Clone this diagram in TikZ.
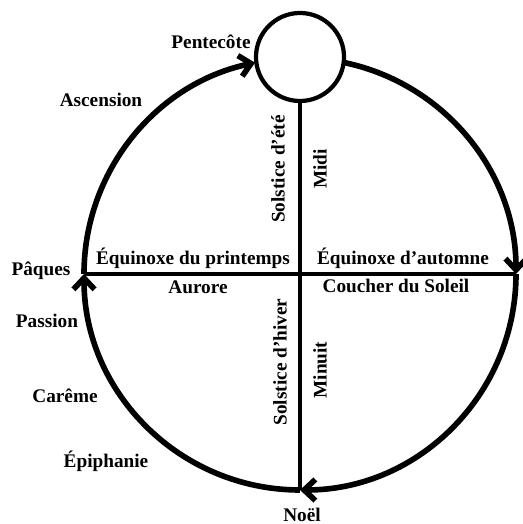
\documentclass[tikz,border=0pt]{standalone}
\usepackage{fontspec}
\setmainfont{Liberation Serif}
\usetikzlibrary{arrows.meta}

\begin{document}
\begin{tikzpicture}[
    x=0.025cm, y=0.025cm,
    font=\fontsize{13.7}{16}\selectfont\bfseries,
    >={Straight Barb[length=8pt,width=15pt]},
    cycle/.style={->, line width=4pt},
    axis/.style={line width=2.4pt},
    sun/.style={circle, draw, line width=3pt, minimum size=2.2cm, inner sep=0pt},
    lbl/.style={inner sep=0pt},
    vlbl/.style={inner sep=0pt, rotate=90},
]
\useasboundingbox (0,0) rectangle (522,524);

% ---- Sun and axes --------------------------------------------------
\coordinate (C) at (300,250);
\node[sun] (sun) at (300,467) {};
\coordinate (noel) at (300,34);
\coordinate (paques) at (84,250);
\coordinate (automne) at (516,250);
\path (C) ++(102:216) coordinate (sunL);
\path (C) ++(78:216) coordinate (sunR);

\draw[axis] (sun.south) -- (noel);
\draw[axis] (paques) -- (automne);

% ---- Year cycle (clockwise) ----------------------------------------
\draw[cycle] (noel) arc[start angle=-90, end angle=-180, radius=216];
\draw[cycle] (paques) arc[start angle=180, end angle=102, radius=216];
\draw[cycle] (sunR) arc[start angle=78, end angle=0, radius=216];
\draw[cycle] (automne) arc[start angle=0, end angle=-90, radius=216];

% ---- Feasts --------------------------------------------------------
\node[lbl] (lPentecote) at (211,482) {Pentecôte};
\node[lbl] (lAscension) at (101,424) {Ascension};
\node[lbl] (lPaques)    at (41,253)  {Pâques};
\node[lbl] (lPassion)   at (47,203)  {Passion};
\node[lbl] (lCareme)    at (65,128)  {Carême};
\node[lbl] (lEpiphanie) at (106,63)  {Épiphanie};
\node[lbl] (lNoel)      at (302,9)   {Noël};

% ---- Axis labels ---------------------------------------------------
\node[lbl] (lPrintemps) at (193,266) {Équinoxe du printemps};
\node[lbl] (lAurore)    at (198,237) {Aurore};
\node[lbl] (lAutomne)   at (403,266) {Équinoxe d'automne};
\node[lbl] (lCoucher)   at (396,238) {Coucher du Soleil};
\node[vlbl] (lEte)      at (278,355) {Solstice d'été};
\node[vlbl] (lMidi)     at (320,355) {Midi};
\node[vlbl] (lHiver)    at (280,162) {Solstice d'hiver};
\node[vlbl] (lMinuit)   at (320,154) {Minuit};

\end{tikzpicture}
\end{document}
